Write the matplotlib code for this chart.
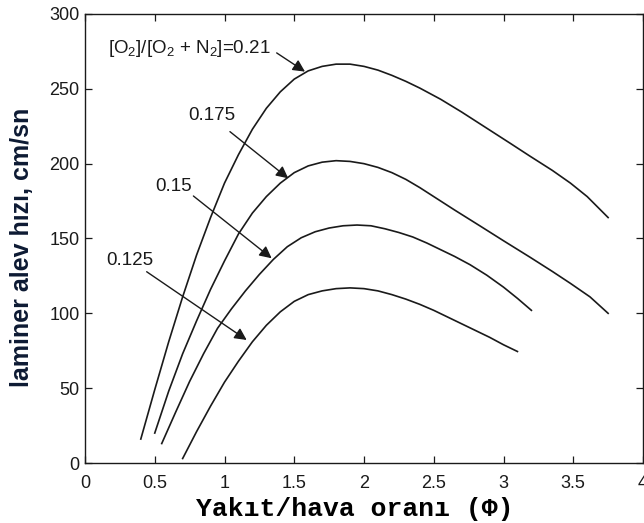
import matplotlib
matplotlib.use("Agg")
import matplotlib.pyplot as plt

plt.rcParams['font.family'] = ['Liberation Sans', 'DejaVu Sans']
plt.rcParams['mathtext.default'] = 'regular'

# O2 fraction 0.21
x_021 = [0.40, 0.50, 0.60, 0.70, 0.80, 0.90, 1.00, 1.10, 1.20, 1.30, 1.40, 1.50, 1.60, 1.70,
         1.80, 1.90, 2.00, 2.10, 2.20, 2.30, 2.40, 2.55, 2.70, 2.90, 3.05, 3.19, 3.35, 3.48,
         3.60, 3.75]
y_021 = [16, 49, 81, 111, 139, 164, 187, 206, 223, 237, 248, 256.5, 262, 265,
         266.5, 266.5, 265, 262.5, 259, 255, 250.5, 243, 234.5, 222.5, 213.5, 205, 195.5, 187,
         178, 164]

# O2 fraction 0.175
x_0175 = [0.50, 0.60, 0.70, 0.80, 0.90, 1.00, 1.10, 1.20, 1.30, 1.40, 1.50, 1.60, 1.70,
          1.80, 1.90, 2.00, 2.10, 2.20, 2.30, 2.40, 2.50, 2.65, 2.83, 3.00, 3.19, 3.35,
          3.48, 3.62, 3.75]
y_0175 = [20, 48, 73, 95, 116, 135, 153, 167, 178, 187, 194, 198.5, 201,
          202, 201.5, 200, 197.5, 194, 189.5, 184, 178, 169, 158.5, 148.5, 137.5, 128,
          120, 111, 100]

# O2 fraction 0.15
x_015 = [0.55, 0.65, 0.75, 0.85, 0.95, 1.05, 1.15, 1.25, 1.35, 1.45, 1.55, 1.65, 1.75,
         1.85, 1.95, 2.05, 2.15, 2.25, 2.35, 2.45, 2.55, 2.65, 2.76, 2.88, 3.00, 3.10, 3.20]
y_015 = [13, 34, 54.5, 73, 90, 103, 115, 126, 136, 144.5, 150.5, 154.5, 157,
         158.5, 159, 158.5, 156.5, 154, 151, 147, 142.5, 138, 132.5, 125.5, 117.5, 110, 102]

# O2 fraction 0.125
x_0125 = [0.70, 0.80, 0.90, 1.00, 1.10, 1.20, 1.30, 1.40, 1.50, 1.60, 1.70, 1.80, 1.90,
          2.00, 2.10, 2.20, 2.30, 2.40, 2.50, 2.60, 2.70, 2.80, 2.90, 3.00, 3.10]
y_0125 = [3, 21, 38, 54, 68, 81, 92, 101, 108, 112.5, 115, 116.5, 117,
          116.5, 115, 112.5, 109.5, 106, 102, 97.5, 93, 88.5, 84, 79, 74.5]

labels = ['[O$_2$]/[O$_2$ + N$_2$]=0.21', '0.175', '0.15', '0.125']
label_xy = [(0.165, 277), (0.74, 232.5), (0.50, 184.6), (0.155, 135.6)]
arrow_start = [(1.374, 274), (1.039, 221.4), (0.777, 178.4), (0.442, 127.8)]
arrow_tip = [(1.577, 261.5), (1.457, 190.2), (1.338, 136.8), (1.159, 82.2)]

xticks = [0, 0.5, 1, 1.5, 2, 2.5, 3, 3.5, 4]
xticklabels = ['0', '0.5', '1', '1.5', '2', '2.5', '3', '3.5', '4']
yticks = [0, 50, 100, 150, 200, 250, 300]

fig = plt.figure(figsize=(6.44, 5.23), dpi=100)
ax = fig.add_axes([85 / 644, 60 / 523, 558 / 644, 449 / 523])

for xs, ys in [(x_021, y_021), (x_0175, y_0175), (x_015, y_015), (x_0125, y_0125)]:
    ax.plot(xs, ys, color='#1a1a1a', lw=1.2)

for lab, lxy, s, t in zip(labels, label_xy, arrow_start, arrow_tip):
    ax.text(lxy[0], lxy[1], lab, fontsize=13.5, ha='left', va='center', color='#1a1a1a')
    ax.annotate('', xy=t, xytext=s,
                arrowprops=dict(arrowstyle='-|>', color='#1a1a1a', lw=1.0,
                                mutation_scale=18, shrinkA=0, shrinkB=0))

ax.set_xlim(0, 4)
ax.set_ylim(0, 300)
ax.set_xticks(xticks)
ax.set_xticklabels(xticklabels)
ax.set_yticks(yticks)
ax.tick_params(direction='in', top=True, right=True, length=5, width=0.9,
               labelsize=13, colors='#1a1a1a')
ax.tick_params(axis='x', pad=8.5)
ax.tick_params(axis='y', pad=4)
for sp in ax.spines.values():
    sp.set_linewidth(1.0)
    sp.set_color('#1a1a1a')

ax.set_xlabel('Yakıt/hava oranı (Φ)', fontfamily=['Liberation Mono', 'DejaVu Sans Mono'],
              fontweight='bold', fontsize=19, va='top')
ax.xaxis.set_label_coords(0.484, -0.075)
ax.set_ylabel('laminer alev hızı, cm/sn', fontweight='bold', fontsize=18,
              color='#0d1a33')
ax.yaxis.set_label_coords(-0.092, 0.48)

fig.savefig('out.png', dpi=100)
